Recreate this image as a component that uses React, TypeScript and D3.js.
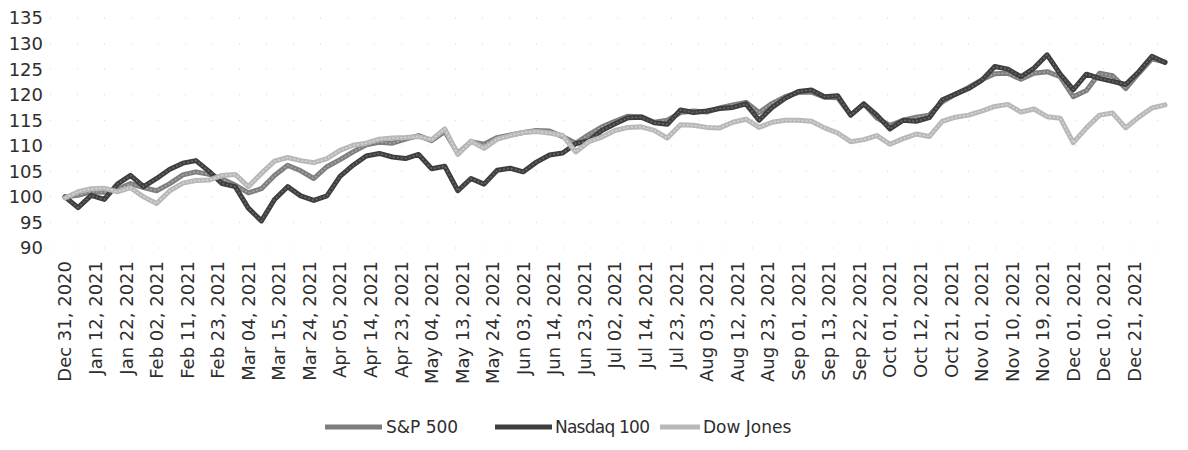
import { useRef, useEffect } from "react";
import * as d3 from "d3";

// trading-day tick labels (every 7th session)
const tickLabels = [
  "Dec 31, 2020", "Jan 12, 2021", "Jan 22, 2021", "Feb 02, 2021", "Feb 11, 2021", "Feb 23, 2021",
  "Mar 04, 2021", "Mar 15, 2021", "Mar 24, 2021", "Apr 05, 2021", "Apr 14, 2021", "Apr 23, 2021",
  "May 04, 2021", "May 13, 2021", "May 24, 2021", "Jun 03, 2021", "Jun 14, 2021", "Jun 23, 2021",
  "Jul 02, 2021", "Jul 14, 2021", "Jul 23, 2021", "Aug 03, 2021", "Aug 12, 2021", "Aug 23, 2021",
  "Sep 01, 2021", "Sep 13, 2021", "Sep 22, 2021", "Oct 01, 2021", "Oct 12, 2021", "Oct 21, 2021",
  "Nov 01, 2021", "Nov 10, 2021", "Nov 19, 2021", "Dec 01, 2021", "Dec 10, 2021", "Dec 21, 2021",
];
const yTicks = [90, 95, 100, 105, 110, 115, 120, 125, 130, 135];

const totalSessions = 252; // Dec 31, 2020 .. Dec 31, 2021
const labelEvery = 7;

// values sampled every 3 sessions (rebased to 100)
const sp500 = [
  100, 100.3, 101, 100.9, 101.5, 102.6, 101.8, 101.2, 102.6, 104.3, 104.9, 104.4, 103.5, 102.3, 100.8,
  101.6, 104.2, 106.2, 105.1, 103.6, 105.9, 107.3, 108.8, 110.2, 110.7, 110.5, 111.3, 112, 111, 112.8,
  108.5, 110.8, 110.3, 111.6, 112.1, 112.6, 113, 112.9, 111.8, 110.5, 112.2, 113.7, 114.8, 115.8, 115.7,
  114.6, 115, 116.5, 116.8, 116.6, 117.4, 118, 118.5, 116.5, 118.3, 119.6, 120.4, 120.5, 119.5, 119.4,
  116, 118.2, 115.4, 114, 115, 115.6, 116, 118.6, 120.1, 121.4, 122.9, 124.1, 124.2, 123, 124.2,
  124.5, 123.5, 119.6, 120.8, 124.2, 123.7, 121.2, 124.2, 127, 126.4,
];
const nasdaq100 = [
  100, 97.9, 100.3, 99.5, 102.5, 104.2, 102, 103.6, 105.4, 106.6, 107.1, 105, 102.6, 102, 97.8,
  95.3, 99.5, 102, 100.2, 99.3, 100.2, 104, 106.2, 108, 108.5, 107.8, 107.5, 108.3, 105.5, 106,
  101.2, 103.6, 102.5, 105.2, 105.6, 104.9, 106.8, 108.2, 108.6, 110.4, 111, 113, 114.3, 115.5, 115.6,
  114.5, 114.2, 117, 116.5, 116.8, 117.3, 117.5, 118.2, 115, 117.5, 119.3, 120.6, 120.9, 119.6, 119.8,
  116, 118.2, 116, 113.3, 115, 114.8, 115.5, 119, 120.1, 121.2, 122.8, 125.5, 125, 123.5, 125.2,
  127.8, 124, 121, 124, 123.2, 122.6, 122, 124.5, 127.5, 126.3,
];
const dowJones = [
  99.8, 101, 101.6, 101.7, 101, 101.8, 100, 98.7, 101.2, 102.7, 103.2, 103.3, 104.2, 104.4, 102,
  104.6, 107, 107.7, 107.1, 106.7, 107.5, 109.1, 110.1, 110.5, 111.3, 111.5, 111.6, 111.8, 111.2, 113.3,
  108.3, 110.9, 109.5, 111.3, 112, 112.6, 112.8, 112.5, 112, 108.8, 110.8, 111.7, 113, 113.6, 113.7,
  113, 111.5, 114.1, 114, 113.6, 113.5, 114.6, 115.2, 113.6, 114.6, 115, 115, 114.8, 113.5, 112.5,
  110.8, 111.2, 112, 110.3, 111.4, 112.3, 111.8, 114.8, 115.6, 116, 116.8, 117.7, 118.1, 116.6, 117.2,
  115.7, 115.4, 110.6, 113.5, 116, 116.4, 113.5, 115.6, 117.4, 118,
];

const seriesNames = ["S&P 500", "Nasdaq 100", "Dow Jones"];
const seriesValues = [sp500, nasdaq100, dowJones];
const seriesColors = ["#7e7e7e", "#3e3e3e", "#b8b8b8"];
const seriesInner = ["#a6a6a6", "#6a6a6a", "#d6d6d6"];

const width = 1188;
const height = 450;
const font = "'DejaVu Sans', sans-serif";

export default function App() {
  const svgRef = useRef<SVGSVGElement>(null);

  useEffect(() => {
    if (!svgRef.current) return;
    const svg = d3.select(svgRef.current);
    svg.selectAll("*").remove();

    const xScale = d3.scaleLinear().domain([0, totalSessions]).range([65, 1165]);
    const yScale = d3.scaleLinear().domain([90, 135]).range([248, 18]);

    // faint gridlines
    svg
      .append("g")
      .selectAll("line")
      .data(yTicks)
      .enter()
      .append("line")
      .attr("x1", 50)
      .attr("x2", 1170)
      .attr("y1", (d) => yScale(d))
      .attr("y2", (d) => yScale(d))
      .attr("stroke", "#d4d4d4")
      .attr("stroke-width", 1)
      .attr("stroke-dasharray", "1 26");

    // Y axis labels
    svg
      .append("g")
      .selectAll("text")
      .data(yTicks)
      .enter()
      .append("text")
      .attr("x", 43)
      .attr("y", (d) => yScale(d))
      .attr("dy", "0.36em")
      .attr("text-anchor", "end")
      .attr("font-family", font)
      .attr("font-size", 18)
      .attr("fill", "#2e2e2e")
      .text((d) => d);

    // X axis labels
    svg
      .append("g")
      .selectAll("text")
      .data(tickLabels)
      .enter()
      .append("text")
      .attr("transform", (_, i) => `translate(${xScale(i * labelEvery)},261) rotate(-90)`)
      .attr("dy", "0.36em")
      .attr("text-anchor", "end")
      .attr("font-family", font)
      .attr("font-size", 18)
      .attr("fill", "#2e2e2e")
      .text((d) => d);

    // Lines: darker edge with a lighter core, like the scanned texture
    seriesValues.forEach((vals, si) => {
      const step = totalSessions / (vals.length - 1);
      const line = d3
        .line<number>()
        .x((_, i) => xScale(i * step))
        .y((d) => yScale(d));
      const g = svg.append("g");
      g.append("path")
        .datum(vals)
        .attr("d", line)
        .attr("fill", "none")
        .attr("stroke", seriesColors[si])
        .attr("stroke-width", 5)
        .attr("stroke-linejoin", "round")
        .attr("stroke-linecap", "round");
      g.append("path")
        .datum(vals)
        .attr("d", line)
        .attr("fill", "none")
        .attr("stroke", seriesInner[si])
        .attr("stroke-width", 1.5)
        .attr("stroke-dasharray", "2 2")
        .attr("stroke-linejoin", "round");
    });

    // Legend
    const legendLines: [number, number][] = [
      [325, 382],
      [495, 552],
      [660, 700],
    ];
    const legendText = [386, 555, 703];
    const legend = svg.append("g");
    seriesNames.forEach((name, i) => {
      legend
        .append("line")
        .attr("x1", legendLines[i][0])
        .attr("x2", legendLines[i][1])
        .attr("y1", 427)
        .attr("y2", 427)
        .attr("stroke", seriesColors[i])
        .attr("stroke-width", 5);
      legend
        .append("text")
        .attr("x", legendText[i])
        .attr("y", 427)
        .attr("dy", "0.36em")
        .attr("font-family", font)
        .attr("font-size", 17)
        .attr("textLength", i === 1 ? 95 : null)
        .attr("fill", "#2e2e2e")
        .text(name);
    });
  }, []);

  return (
    <svg
      ref={svgRef}
      width={width}
      height={height}
      style={{ position: "absolute", left: 0, top: 0, background: "#fff" }}
    />
  );
}
